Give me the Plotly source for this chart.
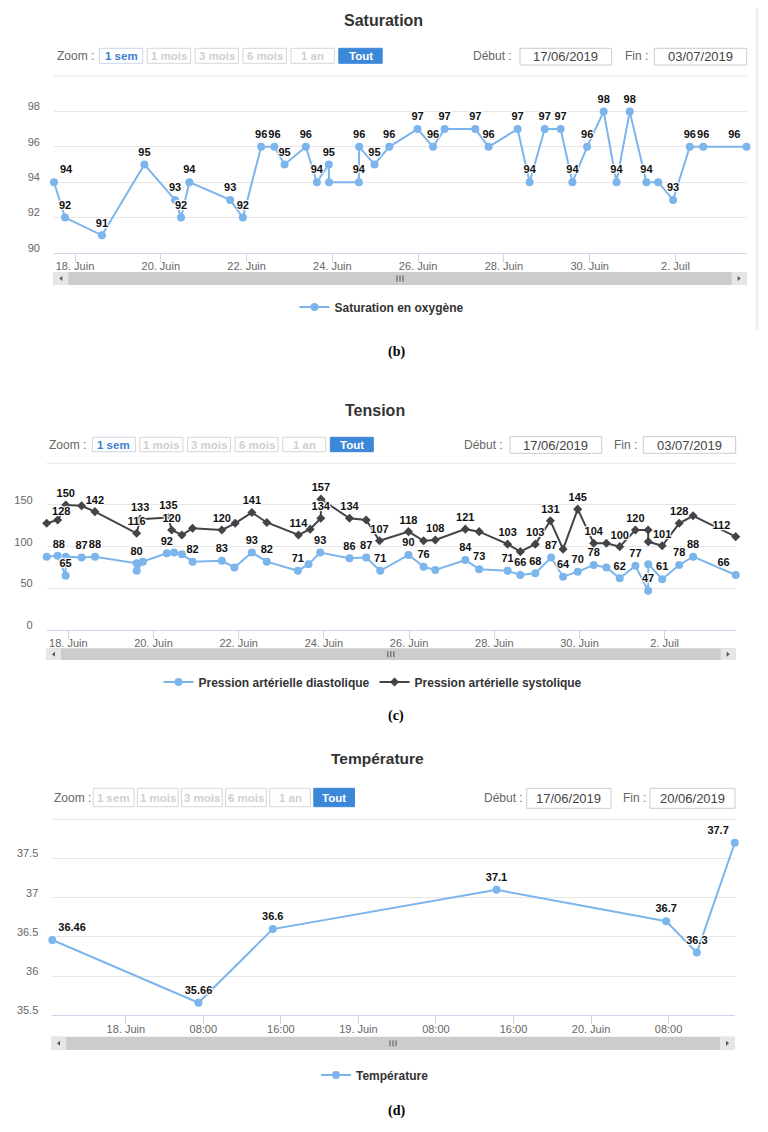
import plotly.graph_objects as go

W, H = 768, 1132
SANS = "Liberation Sans"
SERIF = "Liberation Serif"

# ------------------------------------------------------------------ data
sat_time = [
    "2019-06-17 12:15", "2019-06-17 18:25", "2019-06-18 15:05", "2019-06-19 14:50",
    "2019-06-20 08:00", "2019-06-20 11:20", "2019-06-20 16:00", "2019-06-21 14:50",
    "2019-06-21 21:55", "2019-06-22 08:10", "2019-06-22 15:35", "2019-06-22 21:15",
    "2019-06-23 09:10", "2019-06-23 15:20", "2019-06-23 22:00", "2019-06-23 22:10",
    "2019-06-24 14:50", "2019-06-24 15:00", "2019-06-24 23:35", "2019-06-25 07:50",
    "2019-06-25 23:40", "2019-06-26 08:20", "2019-06-26 14:50", "2019-06-27 08:00",
    "2019-06-27 15:25", "2019-06-28 07:40", "2019-06-28 14:25", "2019-06-28 22:50",
    "2019-06-29 07:45", "2019-06-29 14:20", "2019-06-29 22:35", "2019-06-30 07:50",
    "2019-06-30 15:00", "2019-06-30 22:25", "2019-07-01 07:45", "2019-07-01 14:20",
    "2019-07-01 22:40", "2019-07-02 08:00", "2019-07-02 15:30", "2019-07-03 15:45",
]
sat_value = [94, 92, 91, 95, 93, 92, 94, 93, 92, 96, 96, 95, 96, 94, 95, 94, 94, 96, 95, 96,
             97, 96, 97, 97, 96, 97, 94, 97, 97, 94, 96, 98, 94, 98, 94, 94, 93, 96, 96, 96]
sat_hidden = [15, 35]

dia_time = [
    "2019-06-17 11:50", "2019-06-17 18:00", "2019-06-17 22:30", "2019-06-17 22:35",
    "2019-06-18 07:30", "2019-06-18 15:00", "2019-06-19 14:30", "2019-06-19 14:35",
    "2019-06-19 18:00", "2019-06-20 07:30", "2019-06-20 11:35", "2019-06-20 16:00",
    "2019-06-20 22:00", "2019-06-21 14:30", "2019-06-21 21:35", "2019-06-22 07:25",
    "2019-06-22 15:50", "2019-06-23 09:20", "2019-06-23 15:20", "2019-06-23 21:55",
    "2019-06-24 14:25", "2019-06-24 23:50", "2019-06-25 07:45", "2019-06-25 23:40",
    "2019-06-26 08:10", "2019-06-26 14:45", "2019-06-27 07:40", "2019-06-27 15:30",
    "2019-06-28 07:30", "2019-06-28 14:40", "2019-06-28 23:05", "2019-06-29 08:00",
    "2019-06-29 14:45", "2019-06-29 23:00", "2019-06-30 08:00", "2019-06-30 15:10",
    "2019-06-30 22:40", "2019-07-01 07:30", "2019-07-01 14:40", "2019-07-01 14:45",
    "2019-07-01 22:35", "2019-07-02 08:10", "2019-07-02 16:00", "2019-07-03 16:00",
]
dia_value = [88, 89, 65, 88, 87, 88, 80, 71, 82, 92, 93, 91, 82, 83, 75, 93, 82, 71, 79, 93,
             86, 87, 71, 90, 76, 72, 84, 73, 71, 66, 68, 87, 64, 70, 78, 75, 62, 77, 47, 79,
             61, 78, 88, 66]
dia_hidden = [1, 3, 7, 8, 10, 11, 14, 18, 25, 35, 39]

sys_time = [
    "2019-06-17 11:50", "2019-06-17 18:00", "2019-06-17 22:30", "2019-06-17 22:35",
    "2019-06-18 07:30", "2019-06-18 15:00", "2019-06-19 14:30", "2019-06-19 16:30",
    "2019-06-20 08:25", "2019-06-20 10:15", "2019-06-20 16:00", "2019-06-20 22:00",
    "2019-06-21 14:30", "2019-06-21 22:00", "2019-06-22 07:25", "2019-06-22 15:50",
    "2019-06-23 09:40", "2019-06-23 16:15", "2019-06-23 22:15", "2019-06-23 22:20",
    "2019-06-24 14:25", "2019-06-24 23:50", "2019-06-25 07:20", "2019-06-25 23:40",
    "2019-06-26 08:10", "2019-06-26 14:45", "2019-06-27 07:40", "2019-06-27 15:30",
    "2019-06-28 07:30", "2019-06-28 14:40", "2019-06-28 23:05", "2019-06-29 07:35",
    "2019-06-29 14:45", "2019-06-29 23:00", "2019-06-30 08:00", "2019-06-30 15:10",
    "2019-06-30 22:40", "2019-07-01 07:30", "2019-07-01 14:40", "2019-07-01 14:45",
    "2019-07-01 22:35", "2019-07-02 08:10", "2019-07-02 16:00", "2019-07-03 16:00",
]
sys_value = [128, 132, 147, 150, 149, 142, 116, 133, 135, 120, 114, 122, 120, 128, 141, 129,
             114, 121, 134, 157, 134, 132, 107, 118, 107, 108, 121, 118, 103, 94, 103, 131,
             97, 145, 104, 104, 100, 120, 120, 106, 101, 128, 137, 112]
sys_hidden = [1, 2, 4, 10, 11, 13, 15, 17, 21, 24, 27, 29, 32, 35, 38, 39, 42]

temp_time = ["2019-06-17 16:25", "2019-06-18 07:30", "2019-06-18 15:10", "2019-06-19 14:15",
             "2019-06-20 07:45", "2019-06-20 10:55", "2019-06-20 14:50"]
temp_value = [36.46, 35.66, 36.6, 37.1, 36.7, 36.3, 37.7]

day_ticks = ["2019-06-18", "2019-06-20", "2019-06-22", "2019-06-24",
             "2019-06-26", "2019-06-28", "2019-06-30", "2019-07-02"]
day_tick_labels = ["18. Juin", "20. Juin", "22. Juin", "24. Juin",
                   "26. Juin", "28. Juin", "30. Juin", "2. Juil"]
temp_ticks = ["2019-06-18 00:00", "2019-06-18 08:00", "2019-06-18 16:00", "2019-06-19 00:00",
              "2019-06-19 08:00", "2019-06-19 16:00", "2019-06-20 00:00", "2019-06-20 08:00"]
temp_tick_labels = ["18. Juin", "08:00", "16:00", "19. Juin", "08:00", "16:00", "20. Juin", "08:00"]

sat_y_ticks = [90, 92, 94, 96, 98, 100]
sat_y_labels = ["90", "92", "94", "96", "98", ""]
ten_y_ticks = [0, 50, 100, 150, 200]
ten_y_labels = ["0", "50", "100", "150", ""]
temp_y_ticks = [35.5, 36, 36.5, 37, 37.5, 38]
temp_y_labels = ["35.5", "36", "36.5", "37", "37.5", ""]

zoom_buttons = ["1 sem", "1 mois", "3 mois", "6 mois", "1 an", "Tout"]

BLUE = "#7cb5ec"
DARK = "#434348"

# ------------------------------------------------------------------ helpers
def px(x):
    return x / W


def py(y):
    return 1 - y / H


shapes = []
annotations = []


def rect(x0, y0, x1, y1, fill, line="rgba(0,0,0,0)", lw=1):
    shapes.append(dict(type="rect", xref="paper", yref="paper",
                       x0=px(x0), x1=px(x1), y0=py(y1), y1=py(y0),
                       fillcolor=fill, line=dict(color=line, width=lw), layer="above"))


def seg(x0, y0, x1, y1, color, lw=1):
    shapes.append(dict(type="line", xref="paper", yref="paper",
                       x0=px(x0), x1=px(x1), y0=py(y0), y1=py(y1),
                       line=dict(color=color, width=lw), layer="above"))


def text(x, y, s, size, color, weight="normal", xanchor="center", family=SANS):
    annotations.append(dict(xref="paper", yref="paper", x=px(x), y=py(y), text=s,
                            showarrow=False, xanchor=xanchor, yanchor="middle",
                            font=dict(family=family, size=size, color=color, weight=weight)))


def labels(values, hidden, fmt=str):
    out = []
    for i, v in enumerate(values):
        out.append("" if i in hidden else fmt(v))
    return out


def positions(n):
    pos = ["top center"] * n
    pos[0] = "top right"
    pos[-1] = "top left"
    return pos


def panel_chrome(p):
    # title
    text(p["title_x"], p["title_y"], p["title"], p["title_size"], "#333333", "bold")
    # zoom row
    text(p["zoom_x"], p["row_y"], "Zoom :", 12, "#666666", xanchor="left")
    bx, bw, step = p["btn_x"], p["btn_w"], p["btn_step"]
    t0, t1 = p["btn_y"]
    for i, b in enumerate(zoom_buttons):
        x0 = bx + i * step
        x1 = x0 + bw
        if b == "Tout":
            rect(x0, t0, x1, t1, "#3d87d9", "#3d87d9")
            col = "#ffffff"
        elif b == "1 sem" and p["week_active"]:
            rect(x0, t0, x1, t1, "#ffffff", "#c9d6e8")
            col = "#3b7dd6"
        else:
            rect(x0, t0, x1, t1, "#ffffff", "#d6d6d6")
            col = "#cfcfcf"
        text((x0 + x1) / 2, (t0 + t1) / 2, b, 11.5, col, "bold")
    # date inputs
    d0, d1 = p["date_y"]
    text(p["debut_x"], p["row_y"], "Début :", 12, "#666666", xanchor="left")
    rect(p["box1"][0], d0, p["box1"][1], d1, "#ffffff", "#cccccc")
    text(sum(p["box1"]) / 2, (d0 + d1) / 2, p["start"], 13, "#444444")
    text(p["fin_x"], p["row_y"], "Fin :", 12, "#666666", xanchor="left")
    rect(p["box2"][0], d0, p["box2"][1], d1, "#ffffff", "#cccccc")
    text(sum(p["box2"]) / 2, (d0 + d1) / 2, p["end"], 13, "#444444")
    # scrollbar
    s0, s1 = p["scroll_y"]
    l, r = p["scroll_x"]
    rect(l, s0, r, s1, "#cccccc")
    rect(l, s0, l + 15, s1, "#e6e6e6")
    rect(r - 15, s0, r, s1, "#e6e6e6")
    cy = (s0 + s1) / 2
    shapes.append(dict(type="path", xref="paper", yref="paper", layer="above",
                       path=f"M {px(l+9)} {py(cy-2.5)} L {px(l+6)} {py(cy)} L {px(l+9)} {py(cy+2.5)} Z",
                       fillcolor="#555555", line=dict(width=0)))
    shapes.append(dict(type="path", xref="paper", yref="paper", layer="above",
                       path=f"M {px(r-9)} {py(cy-2.5)} L {px(r-6)} {py(cy)} L {px(r-9)} {py(cy+2.5)} Z",
                       fillcolor="#555555", line=dict(width=0)))
    gx = (l + r) / 2
    for dx in (-3, 0, 3):
        seg(gx + dx, cy - 3, gx + dx, cy + 3, "#555555", 1)
    # caption
    text(396, p["cap_y"], p["caption"], 14, "#000000", "bold", family=SERIF)


# ------------------------------------------------------------------ figure
fig = go.Figure()
label_font = dict(family=SANS, size=11, color="#111111", weight="bold",
                  shadow="1px 1px 1px #fff, -1px -1px 1px #fff, 1px -1px 1px #fff, -1px 1px 1px #fff")

fig.add_trace(go.Scatter(
    x=sat_time, y=sat_value, mode="lines+markers+text", name="Saturation en oxygène",
    text=labels(sat_value, sat_hidden), textposition=positions(len(sat_value)),
    textfont=label_font, cliponaxis=False,
    line=dict(color=BLUE, width=2), marker=dict(color=BLUE, size=8),
    xaxis="x", yaxis="y", legend="legend", hoverinfo="x+y"))

fig.add_trace(go.Scatter(
    x=dia_time, y=dia_value, mode="lines+markers+text", name="Pression artérielle diastolique",
    text=labels(dia_value, dia_hidden), textposition=positions(len(dia_value)),
    textfont=label_font, cliponaxis=False,
    line=dict(color=BLUE, width=2), marker=dict(color=BLUE, size=8),
    xaxis="x2", yaxis="y2", legend="legend2", hoverinfo="x+y"))

fig.add_trace(go.Scatter(
    x=sys_time, y=sys_value, mode="lines+markers+text", name="Pression artérielle systolique",
    text=labels(sys_value, sys_hidden), textposition=positions(len(sys_value)),
    textfont=label_font, cliponaxis=False,
    line=dict(color=DARK, width=2), marker=dict(color=DARK, size=7, symbol="diamond"),
    xaxis="x2", yaxis="y2", legend="legend2", hoverinfo="x+y"))

fig.add_trace(go.Scatter(
    x=temp_time, y=temp_value, mode="lines+markers+text", name="Température",
    text=labels(temp_value, []), textposition=positions(len(temp_value)),
    textfont=label_font, cliponaxis=False,
    line=dict(color=BLUE, width=2), marker=dict(color=BLUE, size=8),
    xaxis="x3", yaxis="y3", legend="legend3", hoverinfo="x+y"))


def xaxis(dom, rng, tv, tt):
    return dict(domain=[px(dom[0]), px(dom[1])], type="date", range=rng,
                tickmode="array", tickvals=tv, ticktext=tt,
                ticks="outside", ticklen=8, tickcolor="#ccd6eb", tickwidth=1,
                showline=True, linecolor="#ccd6eb", linewidth=1, showgrid=False,
                tickfont=dict(family=SANS, size=11, color="#666666"),
                ticklabelstandoff=-5, fixedrange=True)


def yaxis(anchor, top, bottom, rng, tv, tt):
    return dict(domain=[py(bottom), py(top)], range=rng, anchor=anchor,
                tickmode="array", tickvals=tv, ticktext=tt,
                showgrid=True, gridcolor="#e6e6e6", gridwidth=1, zeroline=False,
                showline=False, ticks="",
                tickfont=dict(family=SANS, size=11, color="#666666"),
                ticklabelstandoff=13, ticklabelshift=-5, fixedrange=True)


sat_rng = [min(sat_time), max(sat_time)]
ten_rng = [min(dia_time + sys_time), max(dia_time + sys_time)]
temp_rng = [min(temp_time), max(temp_time)]

legend_common = dict(orientation="h", xanchor="center", yanchor="middle",
                     bgcolor="rgba(0,0,0,0)", itemwidth=30,
                     font=dict(family=SANS, size=12, color="#333333", weight="bold"))

fig.update_layout(
    width=W, height=H, autosize=False,
    margin=dict(l=0, r=0, t=0, b=0),
    paper_bgcolor="#ffffff", plot_bgcolor="#ffffff",
    xaxis=xaxis((54, 746.5), sat_rng, day_ticks, day_tick_labels) | dict(anchor="y"),
    yaxis=yaxis("x", 76, 253, [90, 100], sat_y_ticks, sat_y_labels),
    xaxis2=xaxis((46.7, 735.7), ten_rng, day_ticks, day_tick_labels) | dict(anchor="y2"),
    yaxis2=yaxis("x2", 463.3, 630, [0, 200], ten_y_ticks, ten_y_labels),
    xaxis3=xaxis((52.3, 734.8), temp_rng, temp_ticks, temp_tick_labels) | dict(anchor="y3"),
    yaxis3=yaxis("x3", 819.3, 1015.3, [35.5, 38], temp_y_ticks, temp_y_labels),
    legend=dict(legend_common, x=px(382), y=py(307)),
    legend2=dict(legend_common, x=px(373), y=py(682)),
    legend3=dict(legend_common, x=px(375), y=py(1075)),
    showlegend=True,
)

panels = [
    dict(title="Saturation", title_x=383, title_y=20, title_size=16,
         zoom_x=55, row_y=56, btn_x=99.3, btn_w=43.4, btn_step=47.9, btn_y=(48.3, 63.3),
         week_active=True, debut_x=470.7, fin_x=623.3, box1=(520, 611.7), box2=(654.3, 746.7),
         date_y=(48.3, 65), start="17/06/2019", end="03/07/2019",
         scroll_x=(53.3, 746.7), scroll_y=(272, 285), cap_y=352, caption="(b)"),
    dict(title="Tension", title_x=375, title_y=410.5, title_size=16,
         zoom_x=47.3, row_y=445, btn_x=92.3, btn_w=43, btn_step=47.6, btn_y=(437.3, 451.7),
         week_active=True, debut_x=461.7, fin_x=612.3, box1=(510, 601.7), box2=(643.3, 735.7),
         date_y=(436.7, 453.3), start="17/06/2019", end="03/07/2019",
         scroll_x=(46, 735.7), scroll_y=(648.3, 660), cap_y=716, caption="(c)"),
    dict(title="Température", title_x=377, title_y=758, title_size=15.5,
         zoom_x=51.7, row_y=797.7, btn_x=93.3, btn_w=40.7, btn_step=44.1, btn_y=(788.3, 806.7),
         week_active=False, debut_x=481.7, fin_x=620.7, box1=(526.7, 611), box2=(650, 735),
         date_y=(788.3, 808.3), start="17/06/2019", end="20/06/2019",
         scroll_x=(51, 735), scroll_y=(1036.7, 1050), cap_y=1111, caption="(d)"),
]
for p in panels:
    panel_chrome(p)

# top separator lines above the plot areas
seg(54, 76, 746.5, 76, "#e6e6e6")
seg(46.7, 463.3, 735.7, 463.3, "#e6e6e6")
seg(52.3, 819.3, 734.8, 819.3, "#e6e6e6")
# faint frame on the right of the first panel
seg(757, 8, 757, 330, "#eceef1", 3)

fig.update_layout(shapes=shapes, annotations=annotations)
fig.write_html("out.html", config={"displayModeBar": False},
               post_script="document.body.style.margin='0';document.body.style.overflow='hidden';")
